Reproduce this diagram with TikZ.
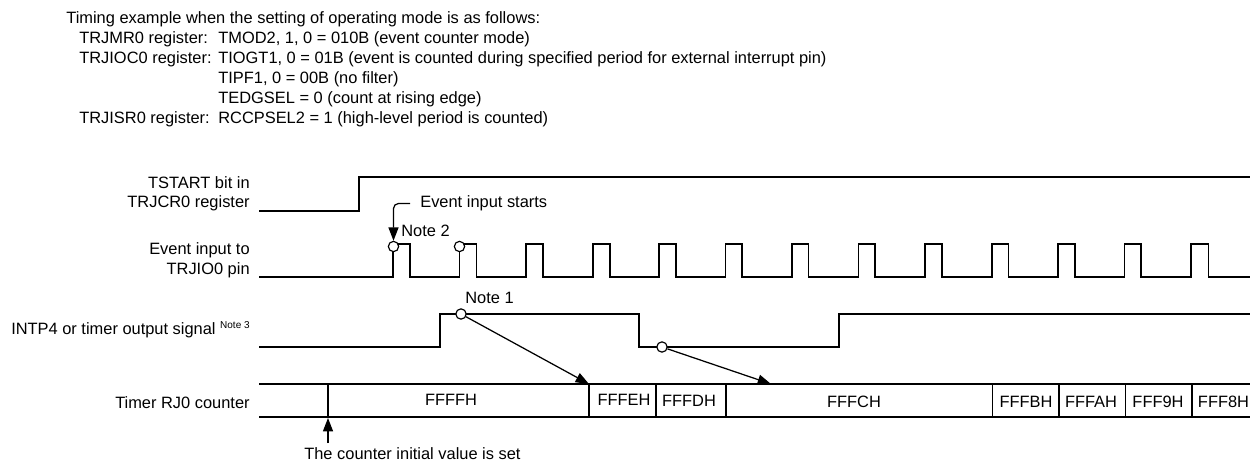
\documentclass[tikz,border=0pt]{standalone}
\usepackage{fontspec}
\setmainfont{Liberation Sans}
\usetikzlibrary{arrows.meta}
\tikzset{
  txt/.style={font=\fontsize{9.85}{11}\selectfont, inner sep=0pt, anchor=west},
  siglabel/.style={font=\fontsize{9.85}{11.7}\selectfont, inner sep=0pt, anchor=east, align=right},
  cnt/.style={font=\fontsize{9.85}{11}\selectfont, inner sep=0pt},
  sig/.style={line width=0.75pt, line join=miter},
  edgemark/.style={circle, draw, fill=white, line width=0.7pt, minimum size=6.2pt, inner sep=0pt},
  arr/.style={line width=0.75pt, -{Triangle[length=8pt,width=6pt]}},
}

\begin{document}
\begin{tikzpicture}[x=0.6pt, y=-0.6pt]
    \useasboundingbox (0,0) rectangle (1250,462);

    % header
    \node[txt] (head) at (66,19.5) {Timing example when the setting of operating mode is as follows:};
    \node[txt] (regA) at (79,39.5) {TRJMR0 register:};
    \node[txt] (valA) at (218,39.5) {TMOD2, 1, 0 = 010B (event counter mode)};
    \node[txt] (regB) at (79,59.5) {TRJIOC0 register:};
    \node[txt] (valB) at (218,59.5) {TIOGT1, 0 = 01B (event is counted during specified period for external interrupt pin)};
    \node[txt] (valC) at (218,79) {TIPF1, 0 = 00B (no filter)};
    \node[txt] (valD) at (218,99) {TEDGSEL = 0 (count at rising edge)};
    \node[txt] (regC) at (79,119) {TRJISR0 register:};
    \node[txt] (valE) at (218,119) {RCCPSEL2 = 1 (high-level period is counted)};

    % signal names
    \node[siglabel] (lblStart) at (250,193.5) {TSTART bit in\\TRJCR0 register};
    \node[siglabel] (lblEvent) at (250,260) {Event input to\\TRJIO0 pin};
    \node[siglabel] (lblIntp) at (250,330) {INTP4 or timer output signal \raisebox{3.5pt}{\fontsize{6}{7}\selectfont Note 3}};
    \node[siglabel] (lblCount) at (250,402.5) {Timer RJ0 counter};

    % TSTART
    \draw[sig] (259,211) -- (359,211) -- (359,177) -- (1250,177);

    % event input
    \draw[sig] (259,277)
      \foreach \xa/\xb in {393/410, 459.5/476.5, 526/543, 593/610, 659/676, 725.5/742, 792/808.5, 858.5/875, 925/942, 992/1008.5, 1058/1075, 1124.5/1141, 1191/1208.5}
        { -- (\xa,277) -- (\xa,244) -- (\xb,244) -- (\xb,277) }
      -- (1250,277);

    % INTP4
    \draw[sig] (259,347) -- (440,347) -- (440,314) -- (639,314) -- (639,347) -- (839,347) -- (839,314) -- (1250,314);

    % counter
    \draw[sig] (259,384) -- (1250,384);
    \draw[sig] (259,417) -- (1250,417);
    \foreach \xa in {328, 589, 656, 726, 992.5, 1059, 1125.5, 1192}
      \draw[sig] (\xa,384) -- (\xa,417);

    \node[cnt] (cntA) at (451,399.5) {FFFFH};
    \node[cnt] (cntB) at (624,399.5) {FFFEH};
    \node[cnt] (cntC) at (689,401) {FFFDH};
    \node[cnt] (cntD) at (854,402) {FFFCH};
    \node[cnt] (cntE) at (1026,402) {FFFBH};
    \node[cnt] (cntF) at (1091,402) {FFFAH};
    \node[cnt] (cntG) at (1158,402) {FFF9H};
    \node[cnt] (cntH) at (1223.5,402) {FFF8H};

    % edges
    \node[edgemark] (mkA) at (393.5,246.5) {};
    \node[edgemark] (mkB) at (459.5,246.5) {};
    \node[edgemark] (mkC) at (461,314) {};
    \node[edgemark] (mkD) at (662,347) {};

    \node[txt] (noteA) at (401,231) {Note 2};
    \node[txt] (noteB) at (465,298) {Note 1};
    \node[txt] (evStart) at (420,203.5) {Event input starts};
    \node[txt] (cntInit) at (304,454) {The counter initial value is set};

    \coordinate (tipA) at (589,384);
    \coordinate (tipB) at (771,384);
    \coordinate (tipC) at (328,418);
    \coordinate (tailC) at (328,443);
    \coordinate (tailE) at (410,203.5);

    \draw[arr] (mkC) -- (tipA);
    \draw[arr] (mkD) -- (tipB);
    \draw[arr] (tailC) -- (tipC);
    \draw[arr, rounded corners=3pt] (tailE) -| (mkA.north);
\end{tikzpicture}
\end{document}
